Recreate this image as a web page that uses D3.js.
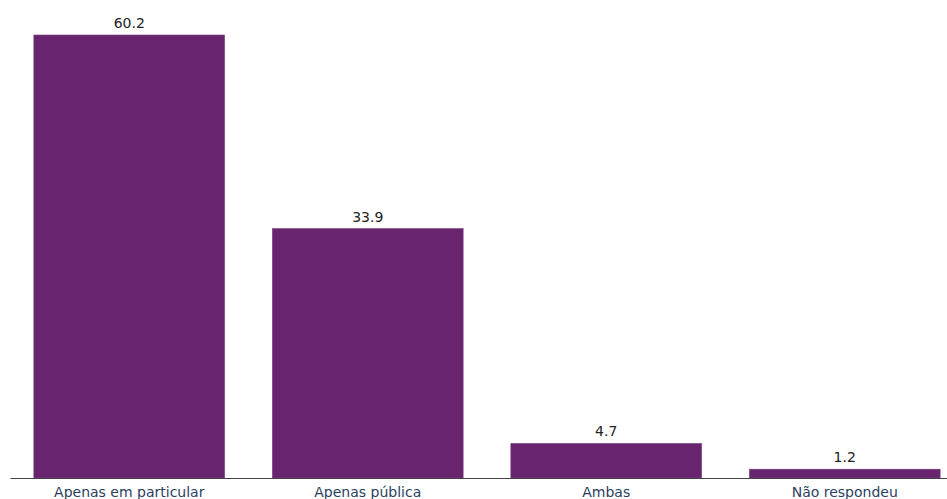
<!DOCTYPE html>
<html>
<head>
<meta charset="utf-8">
<script src="https://cdn.jsdelivr.net/npm/d3@7"></script>
<style>
  body { margin: 0; background: #fff; }
  svg { display: block; }
</style>
</head>
<body>
<svg id="chart"></svg>
<script>
// Data
const categories = ["Apenas em particular", "Apenas pública", "Ambas", "Não respondeu"];
const values = [60.2, 33.9, 4.7, 1.2];
const valueLabels = ["60.2", "33.9", "4.7", "1.2"];

const width = 947;
const height = 499;
const baseY = 478;

const svg = d3.select("#chart")
  .attr("width", width)
  .attr("height", height);

// x: band scale (extends a bit past the right edge like the original)
const x = d3.scaleBand()
  .domain(categories)
  .range([10, 964])
  .paddingInner(0.2)
  .paddingOuter(0.1);

// y: linear, 60.2 reaches y=35
const y = d3.scaleLinear()
  .domain([0, 60.2])
  .range([baseY, 35]);

// bars
svg.append("g")
  .selectAll("rect")
  .data(values)
  .enter()
  .append("rect")
  .attr("x", (d, i) => x(categories[i]))
  .attr("y", d => y(d))
  .attr("width", x.bandwidth())
  .attr("height", d => y(0) - y(d))
  .attr("fill", "#68246f")
  .attr("stroke", "#7a4580")
  .attr("stroke-width", 0.6);

// value labels
svg.append("g")
  .selectAll("text")
  .data(values)
  .enter()
  .append("text")
  .attr("x", (d, i) => x(categories[i]) + x.bandwidth() / 2)
  .attr("y", d => y(d) - 7)
  .attr("text-anchor", "middle")
  .attr("font-family", "DejaVu Sans, Verdana, sans-serif")
  .attr("font-size", 14)
  .attr("fill", "#222")
  .text((d, i) => valueLabels[i]);

// x axis
const xAxis = d3.axisBottom(x).tickSize(0).tickPadding(9);
const gx = svg.append("g")
  .attr("transform", `translate(0,${baseY})`)
  .call(xAxis);
gx.select(".domain").attr("stroke", "#444").attr("stroke-width", 1.2);
gx.selectAll("text")
  .attr("font-family", "DejaVu Sans, Verdana, sans-serif")
  .attr("font-size", 14)
  .attr("fill", "#2a3f5f");
</script>
</body>
</html>
